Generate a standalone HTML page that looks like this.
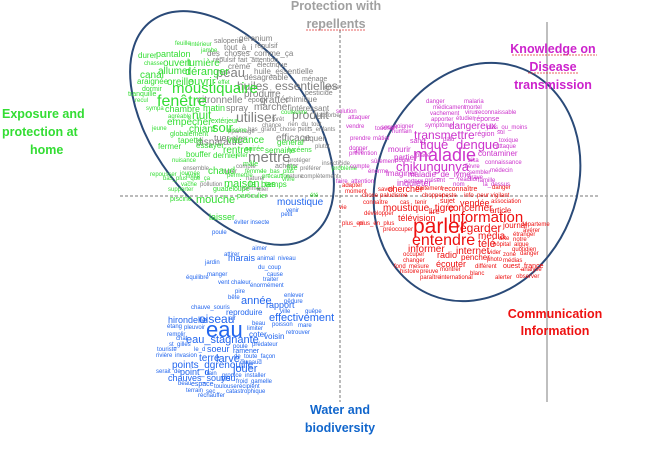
<!DOCTYPE html>
<html><head><meta charset="utf-8"><style>
html,body{margin:0;padding:0;background:#fff;}
svg{display:block;font-family:"Liberation Sans",Arial,sans-serif;}
.g{fill:#808080}.gr{fill:#33dd33}.m{fill:#cc33cc}.r{fill:#ee1111}.b{fill:#2266ee}
</style></head><body>
<svg width="654" height="454" viewBox="0 0 654 454" xmlns="http://www.w3.org/2000/svg">
<rect width="654" height="454" fill="#fff"/>
<line x1="120" y1="196" x2="600" y2="196" stroke="#777" stroke-width="1" stroke-dasharray="3,2"/>
<line x1="340" y1="30" x2="340" y2="402" stroke="#777" stroke-width="1" stroke-dasharray="3,2"/>
<line x1="547" y1="22" x2="547" y2="402" stroke="#aaa" stroke-width="1.5"/>
<ellipse cx="232" cy="128" rx="78" ry="134" transform="rotate(-37 232 128)" fill="none" stroke="#2a4a78" stroke-width="2"/>
<ellipse cx="477" cy="182" rx="100" ry="122" transform="rotate(22 477 182)" fill="none" stroke="#2a4a78" stroke-width="2"/>
<g font-weight="bold" font-size="12.5">
<text x="336" y="10" text-anchor="middle" fill="#a0a0a0">Protection with</text>
<text x="336" y="28" text-anchor="middle" fill="#a0a0a0">repellents</text>
<text x="2" y="118" fill="#33dd33">Exposure and</text>
<text x="2" y="136" fill="#33dd33">protection at</text>
<text x="30" y="154" fill="#33dd33">home</text>
<text x="553" y="53" text-anchor="middle" fill="#cc22cc">Knowledge on</text>
<text x="553" y="71" text-anchor="middle" fill="#cc22cc">Disease</text>
<text x="553" y="89" text-anchor="middle" fill="#cc22cc">transmission</text>
<text x="555" y="318" text-anchor="middle" fill="#ee1111">Communication</text>
<text x="555" y="335" text-anchor="middle" fill="#ee1111">Information</text>
<text x="340" y="414" text-anchor="middle" fill="#1166cc">Water and</text>
<text x="340" y="432" text-anchor="middle" fill="#1166cc">biodiversity</text>
</g>
<g stroke="#e03030" stroke-width="0.8" stroke-dasharray="2,1" fill="none">
<line x1="306" y1="30" x2="366" y2="30"/><line x1="512" y1="55" x2="597" y2="55"/><line x1="528" y1="73" x2="578" y2="73"/>
</g>
<g class="g" font-size="7">
<text x="214" y="43">saloperie</text><text x="239" y="41" font-size="8">géranium</text>
<text x="224" y="50" font-size="8">tout_à_i</text><text x="255" y="48">répulsif</text>
<text x="207" y="56" font-size="8">des_choses_comme_ça</text><text x="213" y="62">répulsif</text><text x="238" y="62">fait_attention</text>
<text x="228" y="69" font-size="8">crème</text><text x="257" y="67">électrique</text>
<text x="216" y="77" font-size="13">peau</text><text x="254" y="74" font-size="8">huile_essentielle</text>
<text x="244" y="80" font-size="8">désagréable</text><text x="302" y="81">ménage</text>
<text x="237" y="90" font-size="12">huiles_essentielles</text><text x="323" y="89" font-size="6">ignorer</text>
<text x="244" y="97" font-size="10">produire</text><text x="305" y="95">pesticide</text>
<text x="197" y="103" font-size="10">citronnelle</text><text x="248" y="102">époux</text><text x="260" y="103" font-size="10">grattér</text><text x="285" y="102" font-size="8">chimique</text>
<text x="226" y="111" font-size="9">spray</text><text x="254" y="110" font-size="10">marcher</text><text x="290" y="111" font-size="8">intéressant</text>
<text x="236" y="122" font-size="14">utiliser</text><text x="292" y="119" font-size="12">produit</text><text x="272" y="121" font-size="6">forêt</text>
<text x="262" y="127" font-size="6">chance</text><text x="288" y="126" font-size="6">rien_du_tout</text>
<text x="228" y="133" font-size="6">épandage</text><text x="248" y="131" font-size="6">bas_grand_chose</text><text x="298" y="131" font-size="6">petits_enfants</text>
<text x="214" y="141" font-size="9">tuer</text><text x="232" y="140" font-size="6">gêner</text><text x="276" y="141" font-size="10">efficace</text><text x="303" y="141" font-size="8">piquer</text>
<text x="196" y="145" font-size="10">disparaître</text><text x="315" y="148" font-size="6">plutôt</text>
<text x="248" y="162" font-size="15">mettre</text><text x="275" y="168" font-size="7">acheter</text><text x="288" y="162" font-size="6">protéger</text>
<text x="236" y="168" font-size="6">compte</text><text x="300" y="170" font-size="6">préférer</text><text x="301" y="178" font-size="6">complètement</text>
<text x="222" y="173" font-size="6">hyper</text><text x="246" y="180" font-size="6">naturel</text><text x="286" y="178" font-size="6">nature</text>
<text x="200" y="186" font-size="6">pollution</text><text x="240" y="190" font-size="6">homme</text><text x="257" y="191" font-size="6">aller</text>
<text x="183" y="170" font-size="6">ensemble</text><text x="322" y="165" font-size="6">insecticide</text><text x="318" y="117" font-size="6">absorber</text>
</g>
<g class="gr" font-size="7">
<text x="175" y="45" font-size="6">feuille</text><text x="190" y="46" font-size="6">intérieur</text><text x="201" y="52" font-size="6">jambe</text>
<text x="138" y="58" font-size="8">durer</text><text x="156" y="57" font-size="9">pantalon</text><text x="144" y="65" font-size="6">chasse</text>
<text x="163" y="66" font-size="10">ouvert</text><text x="187" y="66" font-size="10">lumière</text>
<text x="140" y="78" font-size="10">canal</text><text x="158" y="74" font-size="10">allumer</text><text x="185" y="75" font-size="11">déranger</text>
<text x="137" y="84" font-size="8">araignée</text><text x="167" y="85" font-size="10">oreille</text><text x="188" y="85" font-size="11">ouvrir</text><text x="218" y="84" font-size="6">effet</text>
<text x="142" y="91" font-size="7">dormir</text><text x="172" y="93" font-size="15">moustiquaire</text><text x="128" y="96" font-size="7">tranquille</text>
<text x="135" y="102" font-size="6">recul</text><text x="157" y="106" font-size="16">fenêtre</text><text x="146" y="110" font-size="6">sympa</text>
<text x="165" y="112" font-size="9">chambre</text><text x="203" y="111" font-size="9">matin</text><text x="281" y="114" font-size="6">couleuvre</text>
<text x="168" y="118" font-size="6">agréable</text><text x="192" y="119" font-size="12">nuit</text><text x="211" y="123" font-size="7">extérieur</text>
<text x="167" y="125" font-size="10">empêcher</text><text x="152" y="130" font-size="6">jeune</text><text x="189" y="132" font-size="10">chiant</text><text x="212" y="132" font-size="13">soir</text>
<text x="170" y="136" font-size="7">globalement</text><text x="228" y="132" font-size="6">piscine</text>
<text x="178" y="143" font-size="8">tapette</text><text x="196" y="148" font-size="8">essayer</text><text x="227" y="143" font-size="10">vacance</text>
<text x="158" y="149" font-size="8">fermer</text><text x="223" y="153" font-size="10">rentrer</text><text x="245" y="151" font-size="7">soirée</text><text x="265" y="153" font-size="8">semaine</text><text x="277" y="145" font-size="8">général</text><text x="288" y="152" font-size="7">lycéens</text>
<text x="186" y="157" font-size="8">bouffer</text><text x="213" y="158" font-size="8">dernier</text><text x="236" y="157" font-size="6">jeter</text>
<text x="172" y="162" font-size="6">nuisance</text><text x="180" y="175" font-size="6">journée</text><text x="243" y="166" font-size="7">mâle</text><text x="287" y="170" font-size="7">fille</text>
<text x="208" y="174" font-size="10">chaud</text><text x="245" y="173" font-size="6">femme</text><text x="262" y="173" font-size="6">le_bas_plus</text>
<text x="150" y="176" font-size="6">repousser</text><text x="186" y="178" font-size="6">limite</text><text x="227" y="177" font-size="6">permettre</text><text x="262" y="178" font-size="6">précaution</text>
<text x="163" y="180" font-size="6">bas_plus_que_ça</text><text x="181" y="186" font-size="6">vache</text><text x="282" y="181" font-size="6">vivre</text>
<text x="224" y="187" font-size="11">maison</text><text x="249" y="187" font-size="9">la_bas</text><text x="265" y="187" font-size="8">temps</text>
<text x="168" y="191" font-size="6">supporter</text><text x="213" y="191" font-size="7">guadeloupe</text><text x="237" y="198" font-size="7">particulier</text>
<text x="170" y="201" font-size="7">piscine</text><text x="196" y="203" font-size="11">mouche</text><text x="310" y="197" font-size="6">été</text><text x="332" y="170" font-size="6">problème</text>
<text x="209" y="220" font-size="9">laisser</text>
</g>
<g class="m" font-size="6">
<text x="426" y="103">danger</text><text x="464" y="103">malaria</text><text x="433" y="109">médicament</text><text x="465" y="109">mortel</text>
<text x="430" y="115">vachement</text><text x="465" y="114">virus</text><text x="476" y="114">reconnaissable</text>
<text x="431" y="121">apporter</text><text x="456" y="120">étudier</text><text x="474" y="121" font-size="7">réponse</text>
<text x="375" y="130">toucher</text><text x="394" y="128">soigner</text><text x="425" y="127">symptôme</text><text x="449" y="129" font-size="10">dangereux</text><text x="487" y="129">plus_ou_moins</text>
<text x="392" y="133">humain</text><text x="475" y="136" font-size="7">région</text><text x="497" y="134">sol</text>
<text x="414" y="139" font-size="12">transmettre</text><text x="373" y="140">mâtier</text><text x="410" y="143" font-size="7">sang</text><text x="443" y="141">palu</text><text x="499" y="142">toxique</text>
<text x="420" y="149" font-size="13">tique</text><text x="456" y="149" font-size="13">dengue</text><text x="496" y="148">attaque</text>
<text x="354" y="153">ami</text><text x="388" y="152" font-size="8">mourir</text><text x="394" y="160" font-size="8">partie</text><text x="416" y="157">place</text>
<text x="413" y="161" font-size="18">maladie</text><text x="478" y="156" font-size="8">contaminer</text>
<text x="371" y="163">sûrement</text><text x="395" y="162">doute</text><text x="468" y="162">zika</text><text x="485" y="164">connaissance</text>
<text x="396" y="171" font-size="13">chikungunya</text><text x="465" y="168">fièvre</text><text x="469" y="174">sembler</text><text x="490" y="172">médecin</text>
<text x="368" y="173">énorme</text><text x="386" y="176" font-size="8">imaginer</text><text x="408" y="177" font-size="8">maladie_de_lyme</text><text x="468" y="179">grave</text>
<text x="404" y="183">porteur</text><text x="425" y="182">présent</text><text x="458" y="181">réaction</text><text x="478" y="182">famille</text>
<text x="397" y="186" font-size="9">inquiéter</text><text x="453" y="186">nom</text><text x="483" y="186">là_dessus</text>
<text x="350" y="168">compte</text><text x="336" y="113">solution</text><text x="348" y="119">attaquer</text>
<text x="346" y="128">vendre</text><text x="350" y="140">prendre</text><text x="349" y="150">donner</text><text x="349" y="155">prévention</text>
<text x="336" y="183">faire_attention</text><text x="381" y="129">secret</text>
</g>
<g class="r" font-size="6">
<text x="378" y="191">savoir</text><text x="388" y="192" font-size="9">chercher</text><text x="416" y="190">traitement</text><text x="442" y="191" font-size="7">reconnaître</text><text x="492" y="189">danger</text>
<text x="362" y="197">chose</text><text x="380" y="197">paludisme</text><text x="422" y="197">chopper</text><text x="442" y="197">peste</text><text x="464" y="197">info</text><text x="477" y="197">peur vigilant</text>
<text x="363" y="204">connaître</text><text x="400" y="204">cas</text><text x="415" y="204">tenir</text><text x="440" y="203" font-size="7">sujet</text><text x="460" y="206" font-size="9">vendée</text><text x="491" y="203">association</text>
<text x="383" y="211" font-size="10">moustique_tigre</text><text x="448" y="211" font-size="10">concerner</text><text x="490" y="213" font-size="8">article</text>
<text x="364" y="215">développer</text><text x="429" y="214" font-size="8">lire</text>
<text x="398" y="221" font-size="9">télévision</text><text x="449" y="222" font-size="15">information</text><text x="359" y="225">plus_en_plus</text>
<text x="413" y="233" font-size="21">parler</text><text x="456" y="232" font-size="12">regarder</text><text x="503" y="228" font-size="8">journal</text><text x="521" y="226">départeme</text>
<text x="383" y="231">préoccuper</text><text x="523" y="232">avérer</text><text x="513" y="236">étranger</text>
<text x="412" y="245" font-size="16">entendre</text><text x="478" y="239" font-size="10">média</text><text x="499" y="240">arte</text><text x="513" y="241">notre</text>
<text x="478" y="247" font-size="11">télé</text><text x="493" y="246">hôpital</text><text x="514" y="246">algue</text><text x="512" y="251">quotidien</text>
<text x="408" y="252" font-size="10">informer</text><text x="456" y="254" font-size="10">internet</text><text x="488" y="254">vider</text>
<text x="437" y="258" font-size="9">radio</text><text x="503" y="256">zone</text><text x="520" y="255">danger</text>
<text x="403" y="256">occuper</text><text x="461" y="260" font-size="8">pencher</text><text x="487" y="261">photo</text><text x="503" y="262">médias</text>
<text x="403" y="262">changer</text><text x="436" y="267" font-size="9">écouter</text><text x="475" y="268">différent</text><text x="503" y="268" font-size="7">ouest_france</text>
<text x="394" y="268">fond</text><text x="409" y="268">mesure</text><text x="440" y="271">montrer</text><text x="521" y="271">analyse</text>
<text x="400" y="273">histoire</text><text x="420" y="273">preuve</text><text x="470" y="275">blanc</text><text x="495" y="279">alerter</text><text x="516" y="278">observer</text>
<text x="420" y="279">paraître</text><text x="440" y="279">international</text>
<text x="342" y="187">adapter</text><text x="345" y="193">moment</text><text x="339" y="209">vie</text><text x="342" y="225">plus_en</text>
</g>
<g class="b" font-size="6">
<text x="277" y="205" font-size="10">moustique</text><text x="286" y="212">venir</text><text x="281" y="216">petit</text>
<text x="234" y="224">éviter insecte</text><text x="212" y="234">poule</text>
<text x="252" y="250">aimer</text><text x="224" y="256">attirer</text><text x="228" y="261" font-size="9">marais</text><text x="257" y="260">animal</text><text x="278" y="260">niveau</text>
<text x="205" y="264">jardin</text><text x="258" y="269">du_coup</text><text x="207" y="276">manger</text><text x="186" y="279">équilibre</text>
<text x="267" y="276">cause</text><text x="263" y="281">traiter</text><text x="218" y="284">vent</text><text x="231" y="284">chaleur</text><text x="250" y="287">énormément</text>
<text x="235" y="293">pire</text><text x="228" y="299">bête</text><text x="284" y="297">enlever</text><text x="284" y="303">pêdure</text>
<text x="241" y="304" font-size="11">année</text><text x="266" y="308" font-size="9">rapport</text><text x="191" y="309">chauve_souris</text>
<text x="226" y="315" font-size="8">reproduire</text><text x="280" y="313">ville</text><text x="305" y="313">guêpe</text>
<text x="269" y="321" font-size="11">effectivement</text><text x="168" y="323" font-size="9">hirondelle</text><text x="199" y="323" font-size="12">oiseau</text><text x="229" y="320">air</text>
<text x="167" y="328">étang</text><text x="184" y="329">pleuvoir</text><text x="252" y="325">beau</text><text x="272" y="326">poisson</text><text x="298" y="327">mare</text>
<text x="206" y="337" font-size="22">eau</text><text x="247" y="330">limiter</text><text x="286" y="334">retrouver</text>
<text x="167" y="336">remplir</text><text x="176" y="340">chat</text><text x="186" y="343" font-size="11">eau_stagnante</text><text x="249" y="337" font-size="8">coter</text><text x="264" y="339" font-size="8">voisin</text>
<text x="169" y="346">st_gilles</text><text x="252" y="346">prédateur</text><text x="157" y="351">touriste</text><text x="194" y="351">le_d</text>
<text x="207" y="352" font-size="9">soeur</text><text x="233" y="348">poule</text><text x="233" y="353" font-size="7">ramener</text>
<text x="156" y="357">rivière</text><text x="175" y="357">invasion</text><text x="199" y="361" font-size="10">terre</text><text x="216" y="362" font-size="11">larve</text><text x="234" y="358">de_toute_façon</text>
<text x="240" y="364">crapaud</text><text x="172" y="368" font-size="10">points_dgrenouille</text><text x="233" y="372" font-size="11">jouer</text>
<text x="156" y="373">serait_de</text><text x="180" y="375" font-size="9">point_d</text><text x="205" y="375">train</text><text x="222" y="377">propice</text><text x="245" y="377">installer</text>
<text x="168" y="381" font-size="9">chauves_souris</text><text x="221" y="381" font-size="9">yeu</text><text x="236" y="383">froid</text><text x="251" y="383">gamelle</text>
<text x="178" y="385">beau</text><text x="191" y="386" font-size="7">espace</text><text x="214" y="388">toulouse</text><text x="237" y="388">récipient</text>
<text x="186" y="392">terrain</text><text x="206" y="393">sec</text><text x="226" y="393">catastrophique</text><text x="198" y="397">réchauffer</text>
</g>
</svg>
</body></html>
